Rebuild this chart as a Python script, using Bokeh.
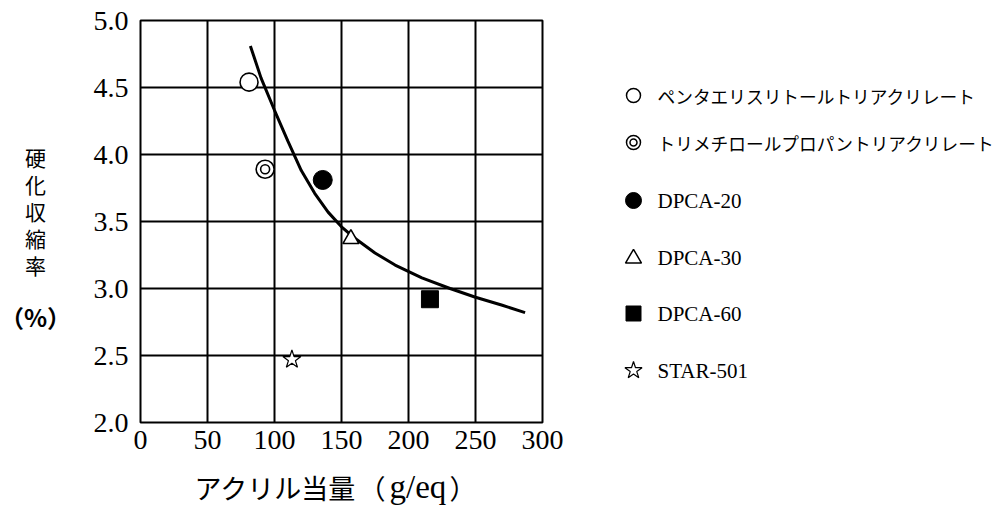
from bokeh.plotting import figure
from bokeh.models import Range1d, FixedTicker, PrintfTickFormatter
from bokeh.layouts import row, column
from bokeh.embed import file_html
from bokeh.resources import INLINE
from bokeh.core.properties import value

# ---- data ----
pe_x, pe_y = [81], [4.54]            # ペンタエリスリトールトリアクリレート
tmp_x, tmp_y = [93], [3.89]          # トリメチロールプロパントリアクリレート
d20_x, d20_y = [136], [3.81]         # DPCA-20
d30_x, d30_y = [157], [3.37]         # DPCA-30
d60_x, d60_y = [216], [2.92]         # DPCA-60
st_x, st_y = [113], [2.47]           # STAR-501

curve_x = [82, 90, 100, 110, 120, 130, 140, 150, 160, 175, 190, 210, 231, 250, 270, 287]
curve_y = [4.81, 4.57, 4.33, 4.10, 3.88, 3.71, 3.57, 3.46, 3.375, 3.265, 3.175, 3.08, 3.00, 2.935, 2.875, 2.82]

x_ticks = [0, 50, 100, 150, 200, 250, 300]
y_ticks = [2.0, 2.5, 3.0, 3.5, 4.0, 4.5, 5.0]

legend_labels = ["ペンタエリスリトールトリアクリレート", "トリメチロールプロパントリアクリレート",
                 "DPCA-20", "DPCA-30", "DPCA-60", "STAR-501"]

x_title_jp = "アクリル当量"
x_title_open = "（"
x_title_unit = "g/eq"
x_title_close = "）"
y_title_chars = ["硬", "化", "収", "縮", "率"]
y_title_unit = "（%）"

SERIF = "Liberation Serif"
SANS = "Noto Sans CJK JP"

# page layout (pixels): plot frame 140..542 x 20..422
W, H = 995, 506
W_LEFT = 70
W_MAIN = 572 - W_LEFT
W_LEG = W - W_LEFT - W_MAIN
H_TOP = 464
H_BOT = H - H_TOP
F_TOP, F_BOT = 20, 422


def blank_fig(width, height, xr, yr, top=0, bottom=0):
    f = figure(width=width, height=height, output_backend="svg", toolbar_location=None,
               x_range=xr, y_range=yr, min_border_left=0, min_border_right=0,
               min_border_top=top, min_border_bottom=bottom)
    f.axis.visible = False
    f.grid.visible = False
    f.outline_line_color = None
    f.background_fill_color = "white"
    f.border_fill_color = "white"
    return f


# ---- main figure ----
p = figure(width=W_MAIN, height=H_TOP, output_backend="svg", toolbar_location=None,
           x_range=Range1d(0, 300), y_range=Range1d(2.0, 5.0),
           min_border_left=140 - W_LEFT, min_border_right=572 - 542,
           min_border_top=F_TOP, min_border_bottom=H_TOP - F_BOT)
p.background_fill_color = "white"
p.border_fill_color = "white"
p.outline_line_color = "black"
p.outline_line_width = 2

p.xaxis.ticker = FixedTicker(ticks=x_ticks)
p.yaxis.ticker = FixedTicker(ticks=y_ticks)
p.yaxis.formatter = PrintfTickFormatter(format="%.1f")
for ax in (p.xaxis, p.yaxis):
    ax.axis_line_color = None
    ax.major_tick_line_color = None
    ax.minor_tick_line_color = None
    ax.major_tick_out = 0
    ax.major_tick_in = 0
    ax.major_label_text_font = SERIF
    ax.major_label_text_font_size = "28px"
    ax.major_label_text_color = "black"
p.xaxis.major_label_standoff = 8
p.yaxis.major_label_standoff = 12

for g in (p.xgrid, p.ygrid):
    g.grid_line_color = "black"
    g.grid_line_width = 2
    g.grid_line_alpha = 1
p.xgrid.ticker = FixedTicker(ticks=x_ticks)
p.ygrid.ticker = FixedTicker(ticks=y_ticks)

p.line(curve_x, curve_y, line_color="black", line_width=3)

p.scatter(pe_x, pe_y, marker="circle", size=18, fill_color="white", line_color="black", line_width=1.6)
p.scatter(tmp_x, tmp_y, marker="circle", size=18, fill_color="white", line_color="black", line_width=1.6)
p.scatter(tmp_x, tmp_y, marker="circle", size=9, fill_color="white", line_color="black", line_width=1.6)
p.scatter(d20_x, d20_y, marker="circle", size=19, fill_color="black", line_color="black")
p.scatter(d30_x, d30_y, marker="triangle", size=16, fill_color="white", line_color="black", line_width=1.6)
p.scatter(d60_x, d60_y, marker="square", size=17, fill_color="black", line_color="black")
p.scatter(st_x, st_y, marker="star", size=19, fill_color="white", line_color="black", line_width=1.2)

# ---- left figure: vertical y-axis title (page pixel coordinates) ----
lf = blank_fig(W_LEFT, H_TOP, Range1d(0, W_LEFT), Range1d(F_BOT, F_TOP),
               top=F_TOP, bottom=H_TOP - F_BOT)
ch_y = [156 + 27 * i for i in range(len(y_title_chars))]
lf.text(x=[35] * len(y_title_chars), y=ch_y, text=y_title_chars, text_font=value(SANS),
        text_font_size="21px", text_align="center", text_baseline="middle", text_color="black")
lf.text(x=[35], y=[316], text=[y_title_unit], text_font=value(SANS),
        text_font_size="24px", text_font_style="bold", text_align="center",
        text_baseline="middle", text_color="black")

# ---- legend figure (page pixel coordinates, shifted) ----
off_x = W_LEFT + W_MAIN
lg = blank_fig(W_LEG, H_TOP, Range1d(off_x, W), Range1d(F_BOT, F_TOP),
               top=F_TOP, bottom=H_TOP - F_BOT)
mx = 633
tx = 657
rows_y = [95, 142, 200, 257, 313, 370]

lg.scatter([mx], [rows_y[0]], marker="circle", size=14, fill_color="white", line_color="black", line_width=1.5)
lg.scatter([mx], [rows_y[1]], marker="circle", size=14, fill_color="white", line_color="black", line_width=1.5)
lg.scatter([mx], [rows_y[1]], marker="circle", size=7, fill_color="white", line_color="black", line_width=1.5)
lg.scatter([mx], [rows_y[2]], marker="circle", size=16, fill_color="black", line_color="black")
lg.scatter([mx], [rows_y[3] + 1], marker="triangle", size=16, fill_color="white", line_color="black", line_width=1.5)
lg.scatter([mx], [rows_y[4]], marker="square", size=15, fill_color="black", line_color="black")
lg.scatter([mx], [rows_y[5]], marker="star", size=18, fill_color="white", line_color="black", line_width=1.2)

leg_sizes = ["17.7px", "17.7px", "21px", "21px", "21px", "21px"]
for i, lab in enumerate(legend_labels):
    jp = i < 2
    lg.text(x=[tx], y=[rows_y[i]], text=[lab],
            text_font=value(SANS if jp else SERIF),
            text_font_size=leg_sizes[i],
            text_align="left", text_baseline="middle", text_color="black")

# ---- bottom figure: x-axis title ----
bf = blank_fig(W, H_BOT, Range1d(0, W), Range1d(H, H_TOP))
ty = 487
bf.text(x=[194], y=[ty], text=[x_title_jp], text_font=value(SANS), text_font_size="27px",
        text_align="left", text_baseline="middle", text_color="black")
bf.text(x=[358], y=[ty], text=[x_title_open], text_font=value(SANS), text_font_size="27px",
        text_align="left", text_baseline="middle", text_color="black")
bf.text(x=[389], y=[ty - 1], text=[x_title_unit], text_font=value(SERIF), text_font_size="33px",
        text_align="left", text_baseline="middle", text_color="black")
bf.text(x=[449], y=[ty], text=[x_title_close], text_font=value(SANS), text_font_size="27px",
        text_align="left", text_baseline="middle", text_color="black")

layout = column(row(lf, p, lg, spacing=0), bf, spacing=0)
open("out.html", "w").write(file_html(layout, INLINE))
